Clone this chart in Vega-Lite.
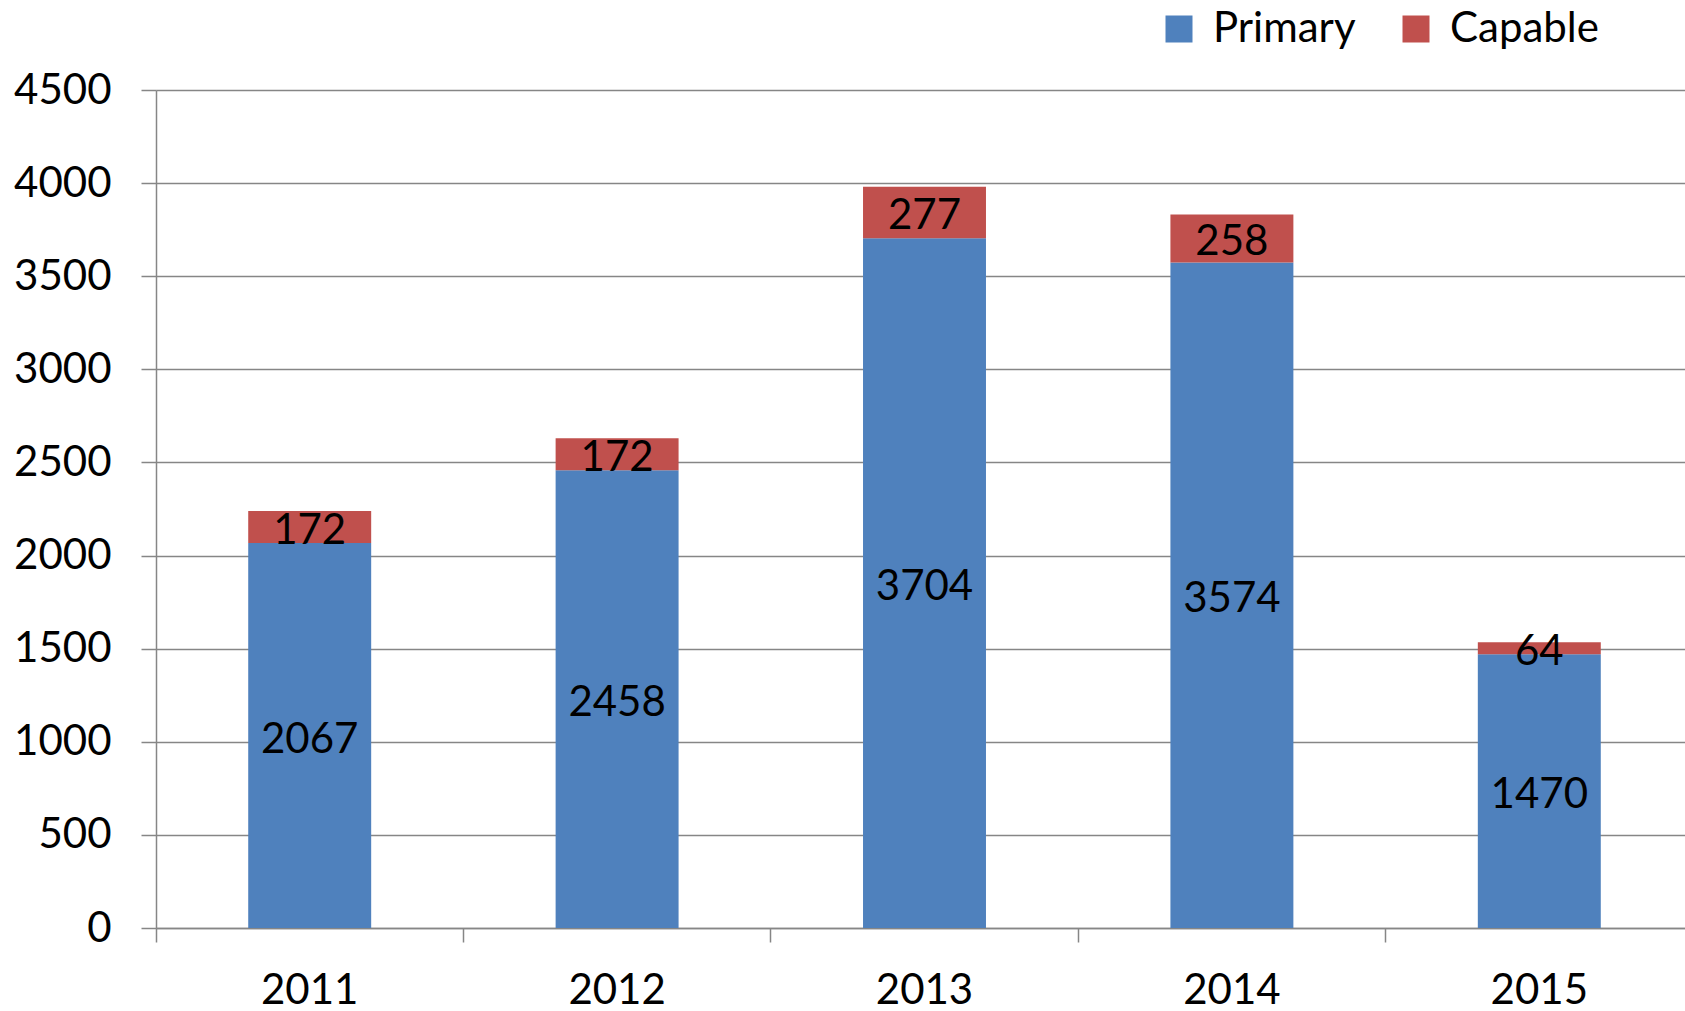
{
  "$schema": "https://vega.github.io/schema/vega-lite/v6.json",
  "width": 1529,
  "height": 838,
  "autosize": {"type": "none"},
  "padding": {"left": 156, "top": 90, "right": 0, "bottom": 83},
  "background": "white",
  "config": {
    "view": {"stroke": null},
    "font": "Lato",
    "axis": {"labelFont": "Lato", "labelFontSize": 42, "labelColor": "black", "domainColor": "#868686", "tickColor": "#868686", "gridColor": "#868686", "domainWidth": 1.5, "tickWidth": 1.5, "gridWidth": 1.5}
  },
  "data": {
    "values": [
      {"year": "2011", "series": "Primary", "k": 1, "value": 2067},
      {"year": "2011", "series": "Capable", "k": 2, "value": 172},
      {"year": "2012", "series": "Primary", "k": 1, "value": 2458},
      {"year": "2012", "series": "Capable", "k": 2, "value": 172},
      {"year": "2013", "series": "Primary", "k": 1, "value": 3704},
      {"year": "2013", "series": "Capable", "k": 2, "value": 277},
      {"year": "2014", "series": "Primary", "k": 1, "value": 3574},
      {"year": "2014", "series": "Capable", "k": 2, "value": 258},
      {"year": "2015", "series": "Primary", "k": 1, "value": 1470},
      {"year": "2015", "series": "Capable", "k": 2, "value": 64}
    ]
  },
  "transform": [
    {"stack": "value", "groupby": ["year"], "sort": [{"field": "k", "order": "ascending"}], "as": ["v0", "v1"]},
    {"calculate": "(datum.v0 + datum.v1) / 2", "as": "mid"}
  ],
  "encoding": {
    "x": {
      "field": "year", "type": "nominal",
      "scale": {"paddingInner": 0, "paddingOuter": 0, "range": [0, 1537]},
      "axis": {"title": null, "labelAngle": 0, "grid": false, "bandPosition": 0, "tickSize": 14, "labelPadding": 28, "domain": true}
    }
  },
  "layer": [
    {
      "mark": {"type": "bar", "width": {"band": 0.4}},
      "encoding": {
        "y": {
          "field": "v0", "type": "quantitative",
          "scale": {"domain": [0, 4500], "nice": false},
          "axis": {"title": null, "format": "d", "values": [0, 500, 1000, 1500, 2000, 2500, 3000, 3500, 4000, 4500], "grid": true, "tickSize": 15, "labelPadding": 30, "domain": true}
        },
        "y2": {"field": "v1"},
        "color": {
          "field": "series", "type": "nominal",
          "scale": {"domain": ["Primary", "Capable"], "range": ["#4F81BD", "#C0504D"]},
          "legend": {
            "title": null, "orient": "none", "direction": "horizontal",
            "legendX": 1002, "legendY": -82,
            "symbolType": "square", "symbolSize": 729, "symbolStrokeWidth": 0, "symbolOpacity": 1,
            "labelFont": "Lato", "labelFontSize": 42, "labelColor": "black",
            "labelOffset": 13, "columnPadding": 39
          }
        }
      }
    },
    {
      "mark": {"type": "text", "fontSize": 42, "font": "Lato", "color": "black", "baseline": "middle", "align": "center", "dy": 4},
      "encoding": {
        "y": {"field": "mid", "type": "quantitative"},
        "text": {"field": "value", "type": "quantitative"}
      }
    }
  ]
}
